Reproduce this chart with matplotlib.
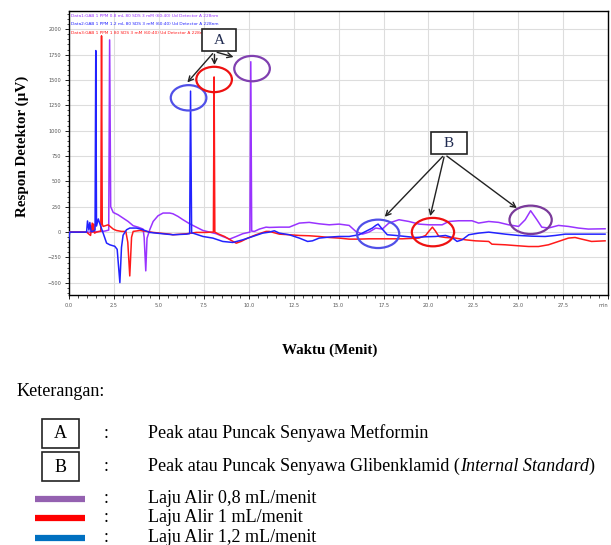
import matplotlib.pyplot as plt
from matplotlib.patches import Ellipse, Rectangle

# Chromatogram traces: time (min) and detector response (uV)
t_08 = [0.0, 1.2, 1.6, 2.0, 2.22, 2.27, 2.33, 2.47, 2.74, 3.02, 3.3, 3.58, 3.85, 4.13, 4.19,
        4.28, 4.35, 4.5, 4.69, 4.96, 5.24, 5.61, 5.79, 6.07, 6.35, 6.72, 7.09, 7.46, 7.83,
        8.2, 8.56, 8.94, 9.31, 9.67, 10.07, 10.12, 10.17, 10.32, 10.6, 10.97, 11.15, 11.71,
        12.26, 12.82, 13.37, 13.92, 14.48, 15.03, 15.59, 15.96, 16.33, 16.69, 17.07, 17.43,
        17.8, 18.36, 18.91, 19.47, 20.03, 20.76, 21.13, 21.68, 22.42, 22.79, 23.35, 23.9,
        24.46, 25.01, 25.38, 25.68, 26.03, 26.3, 26.67, 27.23, 27.78, 28.34, 28.89, 29.82]
v_08 = [0, 0, 5, 10, 20, 1895, 250, 194, 171, 138, 105, 63, 49, 30, -50,
        -382, -60, 23, 105, 161, 188, 188, 181, 155, 122, 82, 49, 16, 0,
        -16, -43, -69, -43, -16, 0, 1680, 10, 7, 30, 49, 46, 49,
        49, 89, 96, 82, 72, 79, 66, 7, -20, 0, 40, 30,
        89, 122, 105, 79, 72, 72, 105, 112, 112, 89, 105, 96,
        72, 56, 122, 211, 122, 49, 40, 66, 56, 40, 30, 33]

t_10 = [0.0, 0.99, 1.21, 1.3, 1.34, 1.38, 1.43, 1.54, 1.78, 1.82, 1.86, 1.91, 2.19, 2.47,
        2.65, 2.93, 3.17, 3.28, 3.39, 3.49, 3.58, 3.95, 4.32, 4.69, 5.06, 5.61, 5.79, 6.54,
        7.09, 7.64, 7.92, 8.04, 8.08, 8.12, 8.29, 8.66, 9.03, 9.31, 9.58, 9.95, 10.41,
        10.97, 11.15, 11.71, 12.26, 12.82, 13.37, 13.92, 14.48, 15.03, 15.59, 16.14, 16.69,
        17.25, 17.8, 18.54, 19.47, 19.84, 20.03, 20.22, 20.39, 20.58, 20.95, 21.5, 22.06,
        22.61, 23.35, 23.53, 24.27, 25.01, 25.57, 26.12, 26.67, 27.23, 27.78, 28.15, 28.52,
        29.07, 29.82]
v_10 = [0, 0, -33, 89, 0, 80, -10, 0, 10, 1935, 80, 56, 72, 30,
        16, 7, 7, -100, -432, -50, 7, 16, 7, -3, -10, -20, -26, -16,
        -3, -3, 0, 0, 1530, 0, -16, -43, -82, -109, -92, -59, -26,
        7, 7, -20, -26, -33, -36, -43, -53, -59, -69, -69, -66,
        -66, -66, -66, -59, -33, 10, 49, 10, -43, -53, -59, -76,
        -86, -92, -119, -125, -135, -142, -142, -125, -92, -59, -53, -69,
        -92, -86]

t_12 = [0.0, 0.05, 0.25, 0.99, 1.04, 1.12, 1.17, 1.24, 1.36, 1.46, 1.5, 1.54, 1.64, 1.73,
        1.91, 2.1, 2.28, 2.56, 2.69, 2.84, 2.93, 3.02, 3.21, 3.39, 3.76, 4.13, 4.5, 4.87,
        5.43, 5.79, 6.54, 6.72, 6.77, 6.83, 6.9, 7.46, 8.01, 8.56, 9.12, 9.67, 10.23,
        10.78, 11.15, 11.43, 11.71, 12.26, 12.82, 13.28, 13.55, 13.92, 14.48, 15.03, 15.59,
        16.14, 16.51, 16.88, 17.07, 17.2, 17.43, 17.71, 18.18, 18.73, 19.29, 19.84, 20.39,
        20.95, 21.31, 21.59, 21.87, 22.24, 22.79, 23.35, 24.27, 25.01, 25.75, 26.49, 27.05,
        27.6, 28.89, 29.82]
v_12 = [-70, 0, 0, 0, 110, 20, 95, 5, 10, 20, 1790, 60, 130, 80,
        -10, -108, -125, -140, -170, -498, -150, -30, 23, 40, 40, 23, -3, -10,
        -20, -26, -20, -15, 1390, -10, -10, -43, -59, -92, -102, -76, -43,
        -10, 0, 13, -10, -26, -59, -92, -86, -59, -49, -43, -43,
        -26, 7, 40, 66, 79, 30, -26, -33, -43, -53, -46, -43,
        -33, -53, -92, -76, -26, -10, 0, -20, -33, -40, -43, -33,
        -20, -20, -20]

header_lines = ['Data1:GAB 1 PPM 0.8 mL 80 SDS 3 mM (60:40) Ud Detector A 228nm',
                'Data2:GAB 1 PPM 1.2 mL 80 SDS 3 mM (60:40) Ud Detector A 228nm',
                'Data3:GAB 1 PPM 1 80 SDS 3 mM (60:40) Ud Detector A 228nm']

x_ticks = [0, 2.5, 5, 7.5, 10, 12.5, 15, 17.5, 20, 22.5, 25, 27.5, 30]
x_ticklabels = ['0.0', '2.5', '5.0', '7.5', '10.0', '12.5', '15.0', '17.5', '20.0',
                '22.5', '25.0', '27.5', 'min']
y_ticks = [-500, -250, 0, 250, 500, 750, 1000, 1250, 1500, 1750, 2000]

# peak markers: metformin (A) and glibenclamide (B), centre time / response
peaks_a_t = [6.66, 8.08, 10.19]
peaks_a_v = [1324, 1505, 1612]
peaks_b_t = [17.2, 20.25, 25.68]
peaks_b_v = [-17, 0, 121]

legend_rows = ['Peak atau Puncak Senyawa Metformin',
               'Peak atau Puncak Senyawa Glibenklamid (',
               'Laju Alir 0,8 mL/menit',
               'Laju Alir 1 mL/menit',
               'Laju Alir 1,2 mL/menit']

c_purple = '#9933ff'
c_red = '#ff1a1a'
c_blue = '#2222ff'
serif = 'Liberation Serif'

W, H = 611, 545
fig = plt.figure(figsize=(W / 100, H / 100), dpi=100)

# page layer in pixel coordinates for the labels and the key below the plot
page = fig.add_axes([0, 0, 1, 1])
page.set_xlim(0, W)
page.set_ylim(H, 0)
page.axis('off')
page.patch.set_alpha(0)

left, right, top, bottom = 68.8, 608.3, 11, 295
ax = fig.add_axes([left / W, 1 - bottom / H, (right - left) / W, (bottom - top) / H])

ax.plot(t_08, v_08, color=c_purple, lw=1.1, zorder=3)
ax.plot(t_10, v_10, color=c_red, lw=1.1, zorder=3)
ax.plot(t_12, v_12, color=c_blue, lw=1.1, zorder=3)

ax.set_xlim(0, 30)
ax.set_ylim(-620, 2180)
ax.set_xticks(x_ticks)
ax.set_xticklabels(x_ticklabels)
ax.get_xticklabels()[-1].set_horizontalalignment('right')
ax.set_xticks([i * 0.5 for i in range(61)], minor=True)
ax.set_yticks(y_ticks)
ax.set_yticks(range(-600, 2200, 50), minor=True)
ax.tick_params(axis='both', which='major', labelsize=3.6, labelcolor='#555555',
               length=3, width=0.6, pad=2.5)
ax.tick_params(axis='both', which='minor', length=1.8, width=0.5)
ax.grid(True, which='major', color='#dddddd', lw=0.8)
ax.set_axisbelow(True)
for s in ax.spines.values():
    s.set_linewidth(1.0)

for i, (line, col) in enumerate(zip(header_lines, [c_purple, c_blue, c_red])):
    ax.text(0.12, 2135 - i * 85, line, color=col, fontsize=3.05, va='center', ha='left')

# circles round the peaks
for t, v, col in zip(peaks_a_t, peaks_a_v, ['#5050e8', '#ee1111', '#8040b0']):
    ax.add_patch(Ellipse((t, v), 1.98, 250, fill=False, ec=col, lw=1.6, zorder=4))
for t, v, col in zip(peaks_b_t, peaks_b_v, ['#5050e8', '#ee1111', '#7a3a9a']):
    ax.add_patch(Ellipse((t, v), 2.35, 280, fill=False, ec=col, lw=1.6, zorder=4))

# labelled boxes with arrows to the circled peaks
ax.add_patch(Rectangle((7.42, 1784), 1.88, 215, fc='white', ec='#222222', lw=1.2, zorder=5))
ax.text(8.36, 1892, 'A', fontsize=11, family=serif, color='#1f2a50',
        ha='center', va='center', zorder=6)
ax.add_patch(Rectangle((20.12, 768), 2.03, 219, fc='white', ec='#222222', lw=1.2, zorder=5))
ax.text(21.13, 877, 'B', fontsize=11, family=serif, color='#1f2a50',
        ha='center', va='center', zorder=6)

arrow = dict(arrowstyle='->', color='#222222', lw=1.0, mutation_scale=9)
for end in [(6.49, 1455), (8.10, 1620), (9.31, 1719)]:
    ax.annotate('', xy=end, xytext=(8.1, 1780), arrowprops=arrow, zorder=5)
for end in [(17.46, 131), (20.06, 131), (25.04, 220)]:
    ax.annotate('', xy=end, xytext=(20.9, 766), arrowprops=arrow, zorder=5)

page.text(22, 146, 'Respon Detektor (µV)', rotation=90, fontsize=10.8, family=serif,
          weight='bold', ha='center', va='center')
page.text(330, 350, 'Waktu (Menit)', fontsize=10.8, family=serif, weight='bold',
          ha='center', va='center')

# key
fs = 13.1
page.text(17, 392, 'Keterangan:', fontsize=fs, family=serif, va='center', ha='left')
row_y = [433, 466.5, 498.5, 518, 538]
for y, letter in zip(row_y[:2], ['A', 'B']):
    page.add_patch(Rectangle((42, y - 14.5), 37, 29, fill=False, ec='#222222', lw=1.2))
    page.text(60.5, y + 1, letter, fontsize=fs, family=serif, ha='center', va='center')
for y, col in zip(row_y[2:], ['#9461b0', '#ff0000', '#0070c0']):
    page.plot([35, 85], [y, y], color=col, lw=4.5, solid_capstyle='butt')
for y, label in zip(row_y, legend_rows):
    page.text(106, y, ':', fontsize=fs, family=serif, ha='center', va='center')
    t = page.text(148, y, label, fontsize=fs, family=serif, ha='left', va='center')
    if label.endswith('('):
        fig.canvas.draw()
        bb = t.get_window_extent()
        x1 = page.transData.inverted().transform((bb.x1, bb.y0))[0]
        t2 = page.text(x1, y, 'Internal Standard', fontsize=fs, family=serif,
                       style='italic', ha='left', va='center')
        fig.canvas.draw()
        bb2 = t2.get_window_extent()
        x2 = page.transData.inverted().transform((bb2.x1, bb2.y0))[0]
        page.text(x2, y, ')', fontsize=fs, family=serif, ha='left', va='center')

fig.savefig('out.png', dpi=100)
